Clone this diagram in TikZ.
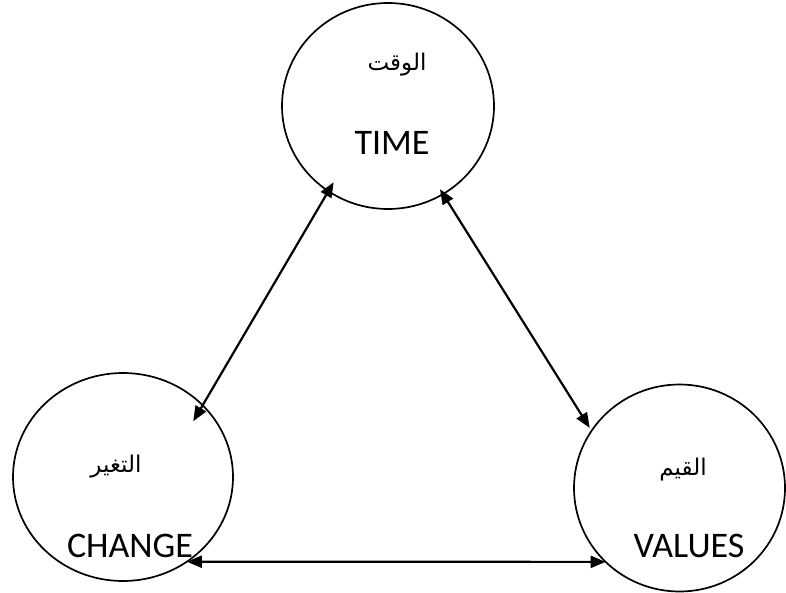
\documentclass[tikz,border=0pt]{standalone}
\usepackage{fontspec}
\setmainfont{Carlito}
\newfontfamily\arabicfont[Script=Arabic]{DejaVu Sans}
\TeXXeTstate=1
\usetikzlibrary{shapes.geometric,arrows.meta}
\begin{document}
\begin{tikzpicture}[x=1pt,y=-1pt,
  circ/.style={draw,ellipse,line width=1.7pt,inner sep=0pt,outer sep=0pt},
  link/.style={{Triangle[length=15pt,width=12pt]}-{Triangle[length=15pt,width=12pt]},line width=2.2pt},
  lat/.style={font=\fontsize{36}{40}\selectfont,anchor=base,inner sep=0pt},
  ar/.style={font=\arabicfont\fontsize{23}{27}\selectfont,inner sep=0pt}]
\useasboundingbox (0,0) rectangle (786,593);
\node[circ,minimum width=212pt,minimum height=206pt] (time) at (388,106) {};
\node[circ,minimum width=220pt,minimum height=208pt] (change) at (123,477) {};
\node[circ,minimum width=211pt,minimum height=207pt] (values) at (679.5,488) {};
\node[ar] (artime) at (397,65) {\beginR الوقت\endR};
\node[lat] (entime) at (392,155) {TIME};
\node[ar] (archange) at (116,467) {\beginR التغير\endR};
\node[lat] (enchange) at (130,557) {CHANGE};
\node[ar] (arvalues) at (683,470) {\beginR القيم\endR};
\node[lat] (envalues) at (689,557) {VALUES};
\draw[link,shorten <=-10.4pt,shorten >=-18.5pt] (time.235.3) -- (change.42.2);
\draw[link,shorten <=-5.7pt,shorten >=3.5pt] (time.302) -- (values.147.2);
\draw[link] (change.307.1) -- (values.225.2);
\end{tikzpicture}
\end{document}
